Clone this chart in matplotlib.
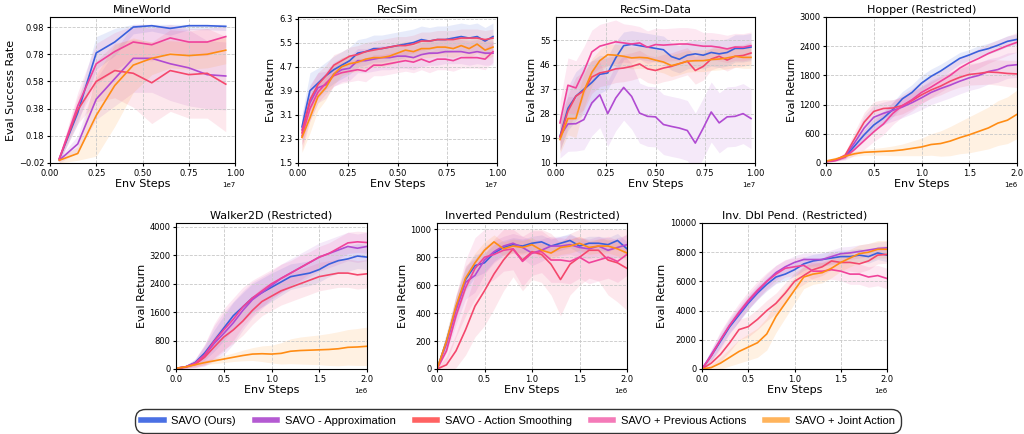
import matplotlib.pyplot as plt
import numpy as np
from matplotlib.lines import Line2D

names = ['SAVO (Ours)', 'SAVO - Approximation', 'SAVO - Action Smoothing',
         'SAVO + Previous Actions', 'SAVO + Joint Action']
colors = ['#3a60dc', '#b04ad2', '#f4476c', '#f0429a', '#ff8c14']
legend_colors = ['#4a70e4', '#b45ad2', '#ff6262', '#f47ab8', '#ffb45c']

# ---- MineWorld (x in 1e7 steps)
mw_steps = [0.05, 0.15, 0.25, 0.35, 0.45, 0.55, 0.65, 0.75, 0.85, 0.95]
mw_blue = [0.01, 0.35, 0.79, 0.87, 0.98, 0.99, 0.97, 0.99, 0.99, 0.985]
mw_purple = [0.0, 0.12, 0.45, 0.60, 0.75, 0.75, 0.71, 0.68, 0.63, 0.62]
mw_red = [0.01, 0.37, 0.58, 0.66, 0.64, 0.57, 0.66, 0.63, 0.64, 0.56]
mw_pink = [0.01, 0.40, 0.71, 0.80, 0.87, 0.85, 0.90, 0.87, 0.87, 0.91]
mw_orange = [0.0, 0.05, 0.33, 0.55, 0.70, 0.75, 0.78, 0.77, 0.78, 0.81]
mw_blue_sd = [0.02, 0.08, 0.12, 0.10, 0.05, 0.04, 0.05, 0.03, 0.03, 0.03]
mw_purple_sd = [0.02, 0.06, 0.15, 0.20, 0.25, 0.25, 0.27, 0.28, 0.25, 0.25]
mw_red_sd = [0.02, 0.10, 0.15, 0.20, 0.25, 0.30, 0.30, 0.32, 0.33, 0.35]
mw_pink_sd = [0.02, 0.10, 0.15, 0.14, 0.12, 0.12, 0.10, 0.10, 0.10, 0.08]
mw_orange_sd = [0.02, 0.05, 0.30, 0.30, 0.20, 0.12, 0.10, 0.10, 0.10, 0.10]

# ---- RecSim / RecSim-Data (x in 1e7 steps)
rs_steps = [0.02, 0.06, 0.10, 0.14, 0.18, 0.22, 0.26, 0.30, 0.34, 0.38, 0.42, 0.46, 0.50,
            0.54, 0.58, 0.62, 0.66, 0.70, 0.74, 0.78, 0.82, 0.86, 0.90, 0.94, 0.98]
rs_blue = [2.7, 3.9, 4.15, 4.4, 4.6, 4.75, 4.9, 5.15, 5.2, 5.3, 5.3, 5.35, 5.4,
           5.45, 5.5, 5.6, 5.55, 5.6, 5.6, 5.65, 5.7, 5.65, 5.7, 5.55, 5.7]
rs_purple = [2.6, 3.5, 4.0, 4.1, 4.45, 4.6, 4.65, 4.9, 4.9, 4.95, 5.0, 5.0, 5.05,
             5.05, 5.0, 5.1, 5.15, 5.15, 5.2, 5.2, 5.2, 5.15, 5.2, 5.15, 5.15]
rs_red = [2.5, 3.6, 4.1, 4.4, 4.75, 4.9, 5.05, 5.1, 5.2, 5.25, 5.3, 5.35, 5.4,
          5.4, 5.45, 5.55, 5.55, 5.6, 5.6, 5.6, 5.65, 5.65, 5.65, 5.6, 5.65]
rs_pink = [2.4, 3.3, 3.85, 4.15, 4.4, 4.5, 4.55, 4.6, 4.55, 4.75, 4.75, 4.8, 4.85,
           4.9, 4.85, 4.95, 4.85, 4.95, 4.95, 4.9, 5.0, 5.0, 5.0, 4.95, 5.2]
rs_orange = [2.35, 3.0, 3.7, 4.0, 4.45, 4.7, 4.8, 4.85, 4.95, 5.0, 5.0, 5.05, 5.15,
             5.25, 5.2, 5.3, 5.3, 5.35, 5.35, 5.3, 5.4, 5.3, 5.45, 5.25, 5.35]
rs_blue_sd = [0.4, 0.6, 0.5, 0.45, 0.45, 0.45, 0.45, 0.45, 0.45, 0.45, 0.45, 0.45, 0.45,
              0.45, 0.45, 0.45, 0.45, 0.45, 0.45, 0.45, 0.45, 0.45, 0.45, 0.45, 0.45]
rs_purple_sd = [0.5, 0.6, 0.5, 0.45, 0.4, 0.4, 0.4, 0.4, 0.4, 0.4, 0.4, 0.4, 0.4,
                0.4, 0.4, 0.4, 0.4, 0.4, 0.4, 0.4, 0.4, 0.4, 0.4, 0.4, 0.4]
rs_red_sd = [0.4, 0.45, 0.4, 0.35, 0.35, 0.3, 0.3, 0.3, 0.3, 0.3, 0.3, 0.3, 0.3,
             0.3, 0.3, 0.3, 0.3, 0.3, 0.3, 0.3, 0.3, 0.3, 0.3, 0.3, 0.3]
rs_pink_sd = [0.5, 0.4, 0.35, 0.35, 0.35, 0.35, 0.35, 0.35, 0.35, 0.35, 0.35, 0.35, 0.35,
              0.35, 0.35, 0.35, 0.35, 0.35, 0.35, 0.35, 0.35, 0.35, 0.35, 0.35, 0.35]
rs_orange_sd = [0.5, 0.5, 0.45, 0.4, 0.35, 0.3, 0.3, 0.3, 0.3, 0.3, 0.3, 0.3, 0.3,
                0.3, 0.3, 0.3, 0.3, 0.3, 0.3, 0.3, 0.3, 0.3, 0.3, 0.3, 0.3]

rd_blue = [19.8, 30, 34.5, 37, 39.5, 42.5, 43, 48.5, 53, 53.5, 53, 52.5, 52,
           51.5, 49, 48, 49.5, 50, 49.5, 50.5, 50, 50.5, 52, 52, 52.5]
rd_purple = [19.8, 24.3, 24.4, 25.9, 32, 35, 28.1, 33.8, 37.7, 34.4, 28.3, 27.1, 26.9,
             24.1, 23.4, 22.8, 21.9, 17.3, 22.8, 28.7, 24.7, 26.9, 27.1, 28.1, 26.3]
rd_red = [19.5, 29, 34.5, 36.5, 41.5, 43, 43.6, 44.5, 44.8, 45.4, 46.3, 44.5, 43.9,
          44.8, 45.4, 46.4, 47.3, 43.9, 45.4, 48.1, 49.1, 47.7, 49.1, 49.4, 50.3]
rd_pink = [24.7, 38.5, 37.5, 43.6, 50.7, 52.8, 53.6, 54.4, 54, 53.6, 54, 52.4, 53.4,
           53.2, 53.4, 53.6, 53.6, 53.2, 52.8, 52.8, 52.4, 51.8, 52.5, 52.4, 53]
rd_orange = [18.6, 26.3, 26.3, 36.3, 43.2, 47.5, 49.7, 49.5, 49.1, 48.5, 48.7, 48.5, 47.7,
             47, 45.7, 46.4, 47.3, 47.5, 47.5, 47.9, 48.1, 48.5, 49.1, 48.7, 48.7]
rd_blue_sd = [5, 8, 9, 9, 8, 7, 6, 6, 5, 5, 5, 5, 5, 5, 5, 5, 5, 5, 5, 5, 5, 5, 5, 5, 5]
rd_purple_sd = [8, 10, 10, 11, 12, 12, 12, 12, 12, 12, 11, 11, 11,
                11, 11, 11, 11, 11, 11, 11, 11, 11, 11, 11, 11]
rd_red_sd = [5, 6, 7, 7, 6, 5, 5, 5, 5, 5, 5, 5, 5, 5, 5, 5, 5, 5, 5, 4, 4, 4, 4, 4, 4]
rd_pink_sd = [8, 10, 10, 9, 8, 8, 8, 8, 7, 7, 6, 6, 6, 6, 6, 6, 6, 6, 5, 5, 5, 5, 5, 5, 5]
rd_orange_sd = [5, 6, 7, 6, 5, 4, 4, 4, 4, 4, 4, 4, 4, 4, 4, 4, 4, 4, 4, 4, 4, 4, 4, 4, 4]

# ---- MuJoCo (x in 1e6 steps)
mj_steps = [0.0, 0.1, 0.2, 0.3, 0.4, 0.5, 0.6, 0.7, 0.8, 0.9, 1.0,
            1.1, 1.2, 1.3, 1.4, 1.5, 1.6, 1.7, 1.8, 1.9, 2.0]

hp_blue = [30, 60, 130, 350, 580, 780, 920, 1100, 1320, 1450, 1640,
           1780, 1890, 2020, 2150, 2220, 2300, 2350, 2420, 2500, 2540]
hp_purple = [30, 60, 140, 420, 720, 940, 1020, 1080, 1150, 1240, 1340,
             1450, 1530, 1600, 1680, 1750, 1800, 1880, 1920, 2000, 2020]
hp_red = [30, 60, 160, 500, 840, 1060, 1120, 1130, 1180, 1280, 1400,
          1500, 1580, 1680, 1760, 1820, 1840, 1870, 1860, 1840, 1830]
hp_pink = [30, 50, 120, 280, 460, 640, 800, 1020, 1180, 1300, 1450,
           1560, 1680, 1800, 1950, 2060, 2150, 2250, 2330, 2410, 2480]
hp_orange = [40, 80, 140, 190, 220, 230, 240, 250, 270, 300, 330,
             380, 400, 450, 520, 580, 650, 720, 820, 880, 1000]
hp_blue_sd = [20, 20, 40, 80, 100, 120, 140, 150, 150, 160, 160,
              150, 140, 130, 120, 110, 110, 110, 110, 110, 110]
hp_purple_sd = [20, 20, 60, 150, 250, 250, 230, 220, 220, 230, 240,
                250, 260, 260, 260, 260, 260, 260, 260, 260, 260]
hp_red_sd = [20, 20, 60, 150, 200, 200, 180, 170, 170, 170, 170,
             170, 180, 190, 200, 220, 230, 250, 260, 270, 280]
hp_pink_sd = [20, 20, 60, 120, 180, 200, 220, 230, 230, 230, 230,
              220, 220, 220, 210, 200, 200, 200, 200, 200, 200]
hp_orange_sd = [30, 40, 40, 50, 60, 70, 80, 100, 120, 150, 180,
                220, 260, 300, 330, 370, 400, 430, 460, 480, 500]

wk_blue = [20, 60, 180, 450, 800, 1150, 1500, 1750, 2000, 2150, 2300,
           2450, 2600, 2650, 2700, 2800, 2950, 3050, 3100, 3180, 3150]
wk_purple = [20, 60, 160, 380, 720, 1000, 1300, 1650, 1950, 2150, 2350,
             2550, 2700, 2850, 3000, 3150, 3250, 3350, 3450, 3400, 3450]
wk_red = [20, 50, 130, 330, 620, 900, 1100, 1350, 1650, 1900, 2050,
          2200, 2300, 2400, 2500, 2600, 2650, 2700, 2700, 2650, 2680]
wk_pink = [20, 60, 160, 400, 780, 1100, 1400, 1750, 2000, 2200, 2400,
           2550, 2700, 2850, 3000, 3150, 3250, 3400, 3550, 3580, 3560]
wk_orange = [20, 60, 120, 180, 230, 280, 330, 380, 420, 430, 420,
             440, 500, 520, 530, 540, 550, 570, 610, 620, 640]
wk_blue_sd = [20, 30, 80, 200, 300, 350, 380, 400, 400, 400, 400,
              380, 360, 350, 350, 350, 350, 350, 350, 350, 350]
wk_purple_sd = [20, 40, 120, 300, 500, 600, 600, 550, 500, 450, 400,
                400, 400, 400, 400, 400, 400, 400, 400, 400, 400]
wk_red_sd = [20, 30, 80, 200, 300, 350, 380, 400, 400, 400, 400,
             400, 400, 400, 400, 400, 400, 400, 400, 400, 400]
wk_pink_sd = [20, 40, 120, 300, 500, 600, 600, 550, 500, 450, 400,
              400, 350, 350, 300, 300, 300, 300, 300, 300, 300]
wk_orange_sd = [20, 30, 40, 60, 80, 100, 120, 150, 180, 220, 250,
                300, 350, 380, 400, 420, 450, 480, 500, 520, 540]

ip_blue = [0, 200, 440, 640, 740, 760, 830, 870, 890, 880, 900,
           910, 880, 900, 920, 880, 900, 900, 890, 920, 860]
ip_purple = [0, 180, 420, 620, 670, 780, 840, 880, 900, 870, 830,
             850, 880, 880, 890, 870, 860, 880, 850, 870, 890]
ip_red = [0, 30, 130, 280, 450, 560, 680, 780, 860, 780, 840,
          820, 750, 640, 750, 800, 850, 850, 780, 760, 720]
ip_pink = [0, 130, 380, 580, 720, 800, 820, 850, 860, 770, 830,
           840, 780, 780, 770, 800, 760, 780, 800, 770, 820]
ip_orange = [0, 200, 450, 650, 760, 850, 910, 860, 880, 870, 890,
             850, 830, 870, 880, 900, 870, 880, 880, 860, 830]
ip_blue_sd = [10, 60, 80, 80, 80, 70, 60, 50, 50, 50, 50,
              50, 50, 50, 50, 50, 50, 50, 50, 50, 50]
ip_purple_sd = [10, 60, 100, 120, 120, 100, 80, 70, 70, 80, 90,
                80, 70, 70, 70, 70, 70, 70, 70, 70, 70]
ip_red_sd = [10, 60, 120, 180, 220, 250, 250, 220, 200, 220, 200,
             200, 220, 260, 220, 200, 200, 220, 250, 280, 300]
ip_pink_sd = [10, 80, 150, 200, 220, 200, 180, 150, 150, 180, 160,
              150, 160, 160, 160, 150, 150, 150, 150, 150, 150]
ip_orange_sd = [10, 60, 80, 80, 70, 60, 50, 50, 50, 50, 50,
                50, 50, 50, 50, 50, 50, 50, 50, 50, 50]

idp_blue = [0, 900, 1900, 2900, 3700, 4500, 5200, 5800, 6300, 6500, 6800,
            7200, 7400, 7500, 7600, 7700, 7700, 7800, 7700, 7950, 7800]
idp_purple = [0, 1000, 2000, 3000, 3800, 4600, 5300, 6000, 6600, 7000, 7300,
              7500, 7500, 7500, 7700, 7900, 7950, 8050, 8150, 8250, 8300]
idp_red = [0, 400, 1000, 1800, 2700, 2900, 3400, 4000, 4500, 5200, 6000,
           6400, 6800, 7000, 7400, 7300, 7300, 7200, 7400, 7800, 7850]
idp_pink = [0, 900, 2000, 3000, 3900, 4700, 5400, 6000, 6500, 6900, 7000,
            7100, 6700, 6700, 6800, 6700, 6500, 6500, 6300, 6400, 6200]
idp_orange = [0, 100, 400, 800, 1200, 1500, 1800, 2400, 3600, 4500, 5400,
              6300, 6500, 6600, 6900, 7300, 7600, 7900, 8000, 8200, 8200]
idp_blue_sd = [50, 300, 400, 450, 450, 450, 450, 450, 450, 450, 450,
               450, 450, 450, 450, 450, 450, 450, 450, 450, 450]
idp_purple_sd = [50, 350, 500, 500, 500, 500, 500, 500, 500, 450, 450,
                 450, 450, 450, 450, 450, 450, 450, 450, 450, 450]
idp_red_sd = [50, 300, 500, 600, 700, 700, 700, 700, 700, 700, 600,
              600, 600, 600, 600, 600, 600, 600, 600, 600, 600]
idp_pink_sd = [50, 400, 600, 600, 600, 600, 600, 600, 600, 600, 600,
               600, 600, 600, 650, 650, 700, 700, 700, 700, 700]
idp_orange_sd = [50, 200, 400, 600, 800, 900, 1000, 1100, 1100, 1000, 900,
                 800, 700, 700, 650, 600, 600, 600, 600, 600, 600]

panels = [
    ('MineWorld', 'Eval Success Rate', mw_steps, 1e7,
     [mw_blue, mw_purple, mw_red, mw_pink, mw_orange],
     [mw_blue_sd, mw_purple_sd, mw_red_sd, mw_pink_sd, mw_orange_sd],
     (-0.02, 1.054), [-0.02, 0.18, 0.38, 0.58, 0.78, 0.98], [0, 0.25e7, 0.5e7, 0.75e7, 1e7], 1.0),
    ('RecSim', 'Eval Return', rs_steps, 1e7,
     [rs_blue, rs_purple, rs_red, rs_pink, rs_orange],
     [rs_blue_sd, rs_purple_sd, rs_red_sd, rs_pink_sd, rs_orange_sd],
     (1.5, 6.35), [1.5, 2.3, 3.1, 3.9, 4.7, 5.5, 6.3], [0, 0.25e7, 0.5e7, 0.75e7, 1e7], None),
    ('RecSim-Data', 'Eval Return', rs_steps, 1e7,
     [rd_blue, rd_purple, rd_red, rd_pink, rd_orange],
     [rd_blue_sd, rd_purple_sd, rd_red_sd, rd_pink_sd, rd_orange_sd],
     (10, 63.5), [10, 19, 28, 37, 46, 55], [0, 0.25e7, 0.5e7, 0.75e7, 1e7], None),
    ('Hopper (Restricted)', 'Eval Return', mj_steps, 1e6,
     [hp_blue, hp_purple, hp_red, hp_pink, hp_orange],
     [hp_blue_sd, hp_purple_sd, hp_red_sd, hp_pink_sd, hp_orange_sd],
     (0, 3000), [0, 600, 1200, 1800, 2400, 3000], [0, 0.5e6, 1e6, 1.5e6, 2e6], None),
    ('Walker2D (Restricted)', 'Eval Return', mj_steps, 1e6,
     [wk_blue, wk_purple, wk_red, wk_pink, wk_orange],
     [wk_blue_sd, wk_purple_sd, wk_red_sd, wk_pink_sd, wk_orange_sd],
     (0, 4110), [0, 800, 1600, 2400, 3200, 4000], [0, 0.5e6, 1e6, 1.5e6, 2e6], None),
    ('Inverted Pendulum (Restricted)', 'Eval Return', mj_steps, 1e6,
     [ip_blue, ip_purple, ip_red, ip_pink, ip_orange],
     [ip_blue_sd, ip_purple_sd, ip_red_sd, ip_pink_sd, ip_orange_sd],
     (0, 1045), [0, 200, 400, 600, 800, 1000], [0, 0.5e6, 1e6, 1.5e6, 2e6], 1000),
    ('Inv. Dbl Pend. (Restricted)', 'Eval Return', mj_steps, 1e6,
     [idp_blue, idp_purple, idp_red, idp_pink, idp_orange],
     [idp_blue_sd, idp_purple_sd, idp_red_sd, idp_pink_sd, idp_orange_sd],
     (0, 10000), [0, 2000, 4000, 6000, 8000, 10000], [0, 0.5e6, 1e6, 1.5e6, 2e6], None),
]

# axes boxes in pixels: left, right, top, bottom
W, H = 1024, 434
boxes = [(50, 235, 17, 163), (298, 497, 17, 163), (556, 755, 17, 163), (826, 1017, 17, 163),
         (176, 367, 223, 369), (437, 627, 223, 369), (702, 887, 223, 369)]

fig = plt.figure(figsize=(10.24, 4.34), dpi=100)

for (title, ylabel, steps, scale, means, sds, ylim, yticks, xticks, cap), (l, r, t, b) in zip(panels, boxes):
    ax = fig.add_axes([l / W, 1 - b / H, (r - l) / W, (b - t) / H])
    x = np.array(steps) * scale
    for m, s, c in zip(means, sds, colors):
        m = np.array(m, dtype=float)
        s = np.array(s, dtype=float)
        hi = m + s
        if cap is not None:
            hi = np.minimum(hi, cap)
        ax.fill_between(x, m - s, hi, color=c, alpha=0.12, lw=0)
        ax.plot(x, m, color=c, lw=1.2)
    ax.set_xlim(0, xticks[-1])
    ax.set_ylim(*ylim)
    ax.set_yticks(yticks)
    ax.set_xticks(xticks)
    ax.grid(True, linestyle='--', color='#c8c8c8', lw=0.6)
    ax.set_title(title, fontsize=8, pad=3)
    ax.set_xlabel('Env Steps', fontsize=8, labelpad=1)
    ax.set_ylabel(ylabel, fontsize=8, labelpad=2)
    ax.tick_params(labelsize=6, length=2.5, pad=1.5)
    ax.xaxis.get_offset_text().set_fontsize(5)

handles = [Line2D([], [], color=c, lw=4) for c in legend_colors]
leg = fig.legend(handles, names, loc='center', bbox_to_anchor=(518 / W, 1 - 421 / H), ncol=5,
                 frameon=True, fancybox=True, edgecolor='black', handlelength=2.0,
                 handletextpad=0.7, columnspacing=1.7, borderpad=0.4,
                 prop={'family': ['Liberation Sans', 'DejaVu Sans'], 'size': 8})
leg.get_frame().set_linewidth(1.0)
leg.get_frame().set_boxstyle('round', pad=0.2, rounding_size=0.9)

plt.savefig('out.png', dpi=100)
